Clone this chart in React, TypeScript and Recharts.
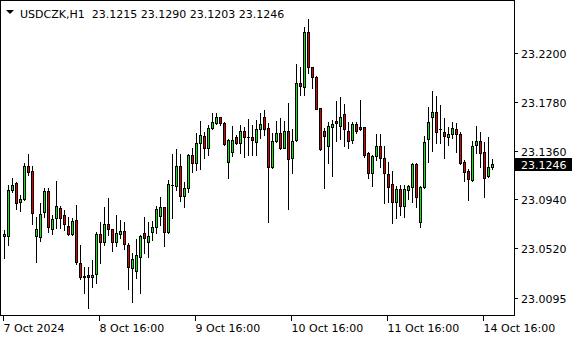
import { ComposedChart, Bar, XAxis, YAxis } from "recharts";

// USDCZK H1, 7 Oct 2024 16:00 .. 14 Oct 2024 18:00
const open = [
  23.0623, 23.0628, 23.1018, 23.1084, 23.0915, 23.0941, 23.1227, 23.1184, 23.0628, 23.0615,
  23.0829, 23.1012, 23.0686, 23.0783, 23.0864, 23.0806, 23.0712, 23.064, 23.0763, 23.0391,
  23.0282, 23.0291, 23.0276, 23.0299, 23.064, 23.0577, 23.0726, 23.0683, 23.0572, 23.0646,
  23.0669, 23.0548, 23.0348, 23.0328, 23.0443, 23.0649, 23.0577, 23.0658, 23.0701, 23.08,
  23.0872, 23.0658, 23.1064, 23.1058, 23.1227, 23.0972, 23.1036, 23.1322, 23.125, 23.1427,
  23.1485, 23.1379, 23.1551, 23.1594, 23.1645, 23.1594, 23.1264, 23.135, 23.1474, 23.1422,
  23.153, 23.1474, 23.1476, 23.1436, 23.1545, 23.1645, 23.1551, 23.1216, 23.1444, 23.1508,
  23.1384, 23.1528, 23.1293, 23.145, 23.1937, 23.1903, 23.2376, 23.2075, 23.1989, 23.1723,
  23.1528, 23.1399, 23.1565, 23.1614, 23.1571, 23.1671, 23.1528, 23.145, 23.1585, 23.1565,
  23.156, 23.1336, 23.117, 23.1316, 23.1399, 23.1293, 23.1156, 23.107, 23.092, 23.103,
  23.0886, 23.1021, 23.1049, 23.1244, 23.0743, 23.1044, 23.1456, 23.1651, 23.1694, 23.1542,
  23.1517, 23.1474, 23.1499, 23.1542, 23.1502, 23.1259, 23.1187, 23.1107, 23.1407, 23.1444,
  23.1345, 23.1141, 23.1215,
];
const high = [
  23.0677, 23.1064, 23.1121, 23.1092, 23.0978, 23.1255, 23.133, 23.1227, 23.0792, 23.0907,
  23.1038, 23.1036, 23.0806, 23.1098, 23.0884, 23.0849, 23.0792, 23.0778, 23.0892, 23.0548,
  23.0362, 23.0362, 23.042, 23.0663, 23.0749, 23.0877, 23.0955, 23.069, 23.0806, 23.0763,
  23.0743, 23.0563, 23.0477, 23.06, 23.0634, 23.0792, 23.0749, 23.0757, 23.0884, 23.0963,
  23.0879, 23.1107, 23.133, 23.1371, 23.1328, 23.1092, 23.133, 23.1379, 23.1508, 23.1614,
  23.1522, 23.1579, 23.168, 23.168, 23.1648, 23.1602, 23.1456, 23.1571, 23.1493, 23.1579,
  23.1565, 23.1628, 23.1579, 23.1622, 23.1685, 23.1708, 23.1594, 23.1508, 23.1616, 23.1637,
  23.1614, 23.1771, 23.1542, 23.2103, 23.2075, 23.2424, 23.2487, 23.208, 23.2, 23.1725,
  23.1551, 23.1608, 23.1622, 23.1788, 23.1817, 23.176, 23.1608, 23.1608, 23.1608, 23.1794,
  23.1565, 23.135, 23.1322, 23.1499, 23.1499, 23.1399, 23.1264, 23.1187, 23.1055, 23.1064,
  23.1064, 23.1064, 23.1255, 23.1255, 23.1055, 23.1485, 23.1731, 23.1871, 23.1828, 23.1751,
  23.1637, 23.1565, 23.1608, 23.1599, 23.1522, 23.1279, 23.1199, 23.1442, 23.1571, 23.1522,
  23.1436, 23.1474, 23.129,
];
const low = [
  23.0437, 23.0548, 23.1006, 23.0855, 23.0843, 23.0935, 23.115, 23.0729, 23.0405, 23.0585,
  23.0792, 23.0663, 23.064, 23.0697, 23.0697, 23.0677, 23.0634, 23.0634, 23.0383, 23.0254,
  23.0134, 23.0005, 23.019, 23.0222, 23.0396, 23.0548, 23.0634, 23.05, 23.0542, 23.0606,
  23.0514, 23.0171, 23.0061, 23.0268, 23.0134, 23.0482, 23.0448, 23.0591, 23.0654, 23.072,
  23.0542, 23.0654, 23.0783, 23.1021, 23.0926, 23.0877, 23.1006, 23.1178, 23.1193, 23.1199,
  23.1293, 23.1322, 23.1542, 23.1585, 23.1579, 23.1407, 23.1121, 23.1313, 23.1413, 23.1341,
  23.1302, 23.1322, 23.1322, 23.1322, 23.1465, 23.1493, 23.0749, 23.1207, 23.1436, 23.1371,
  23.1379, 23.0858, 23.117, 23.1446, 23.1837, 23.1837, 23.2023, 23.19, 23.1714, 23.1367,
  23.1036, 23.1255, 23.1144, 23.1442, 23.1456, 23.1399, 23.1379, 23.1427, 23.1513, 23.1536,
  23.1307, 23.1127, 23.1058, 23.1279, 23.1221, 23.0912, 23.092, 23.074, 23.0778, 23.0806,
  23.0789, 23.0941, 23.092, 23.0877, 23.0706, 23.1041, 23.1264, 23.1359, 23.1422, 23.1422,
  23.1298, 23.1407, 23.1465, 23.135, 23.1244, 23.1101, 23.0935, 23.1101, 23.1336, 23.1216,
  23.0963, 23.113, 23.1203,
];
const close = [
  23.064, 23.1021, 23.1061, 23.0907, 23.0944, 23.1227, 23.1178, 23.0821, 23.0686, 23.0812,
  23.1012, 23.0701, 23.0772, 23.0884, 23.0783, 23.0729, 23.064, 23.0755, 23.0405, 23.0271,
  23.0271, 23.0271, 23.0291, 23.064, 23.0577, 23.0726, 23.0683, 23.0572, 23.0649, 23.0669,
  23.0554, 23.0357, 23.0426, 23.0463, 23.0628, 23.0606, 23.0628, 23.0703, 23.0858, 23.0877,
  23.0658, 23.107, 23.1064, 23.1227, 23.0972, 23.1041, 23.1322, 23.125, 23.1422, 23.1493,
  23.1384, 23.1551, 23.1602, 23.1645, 23.1594, 23.1413, 23.145, 23.145, 23.1422, 23.153,
  23.1474, 23.1474, 23.1453, 23.1545, 23.1585, 23.1545, 23.1221, 23.1444, 23.1508, 23.1384,
  23.1528, 23.1285, 23.1442, 23.1937, 23.1917, 23.2376, 23.2075, 23.1989, 23.1717, 23.1371,
  23.1487, 23.1571, 23.1588, 23.1594, 23.1651, 23.1542, 23.1444, 23.1585, 23.153, 23.1545,
  23.1322, 23.1164, 23.1313, 23.1399, 23.1293, 23.1164, 23.1049, 23.092, 23.103, 23.0886,
  23.103, 23.1055, 23.1244, 23.0958, 23.1044, 23.1431, 23.1602, 23.1694, 23.1522, 23.1542,
  23.1487, 23.1499, 23.1551, 23.1499, 23.125, 23.1178, 23.1113, 23.1399, 23.1442, 23.1341,
  23.1121, 23.1216, 23.1246,
];

const yTicks = [23.22, 23.178, 23.136, 23.094, 23.052, 23.0095];
const xTickIdx = [0, 24, 48, 72, 96, 120];
const xTickLabels = ["7 Oct 2024", "8 Oct 16:00", "9 Oct 16:00", "10 Oct 16:00", "11 Oct 16:00", "14 Oct 16:00"];

const symbol = "USDCZK,H1";
const last = open.length - 1;
const lastClose = close[last];

const FONT = "'DejaVu Sans', sans-serif";
const BULL = "#00f000";
const BEAR = "#e00000";

const rows = open.map((o, i) => ({ i, open: o, high: high[i], low: low[i], close: close[i] }));

function Candle(props: any) {
  const { x, y, width, height } = props;
  const d = props.payload ?? props;
  if (d == null || x == null) return null;
  const top = Math.min(y, y + height);
  const h = Math.abs(height);
  const span = d.high - d.low || 1e-9;
  const toY = (p: number) => top + ((d.high - p) / span) * h;
  const cx = Math.floor(x + width / 2);
  const yH = Math.round(toY(d.high));
  const yL = Math.round(toY(d.low));
  const yO = Math.round(toY(d.open));
  const yC = Math.round(toY(d.close));
  const bt = Math.min(yO, yC);
  const bb = Math.max(yO, yC);
  return (
    <g shapeRendering="crispEdges">
      <rect x={cx} y={yH} width={1} height={yL - yH + 1} fill="#000" />
      {bb - bt < 1 ? (
        <rect x={cx - 1} y={bt} width={3} height={1} fill="#000" />
      ) : (
        <>
          <rect x={cx - 1} y={bt} width={3} height={bb - bt + 1} fill="#000" />
          {bb - bt > 1 && (
            <rect
              x={cx}
              y={bt + 1}
              width={1}
              height={bb - bt - 1}
              fill={d.close >= d.open ? BULL : BEAR}
            />
          )}
        </>
      )}
    </g>
  );
}

function YTick(props: any) {
  const { x, y, payload } = props;
  const v = payload.value;
  const ty = Math.round(y);
  if (v === lastClose) {
    return (
      <g shapeRendering="crispEdges">
        <rect x={x - 6} y={ty - 6} width={57} height={13} fill="#000" />
        <text x={x} y={ty + 4.5} fill="#fff" fontFamily={FONT} fontSize={11}>
          {v.toFixed(4)}
        </text>
      </g>
    );
  }
  return (
    <g>
      <rect x={x - 6} y={ty} width={3} height={1} fill="#000" shapeRendering="crispEdges" />
      <text x={x} y={ty + 4.5} fill="#000" fontFamily={FONT} fontSize={11}>
        {v.toFixed(4)}
      </text>
    </g>
  );
}

function XTick(props: any) {
  const { x, y, payload } = props;
  const col = Math.floor(x);
  const label = xTickLabels[xTickIdx.indexOf(payload.value)];
  return (
    <g>
      <rect x={col} y={y + 1} width={1} height={5} fill="#000" shapeRendering="crispEdges" />
      <text x={col + 0.5} y={y + 17} fill="#000" fontFamily={FONT} fontSize={11}>
        {label}
      </text>
    </g>
  );
}

export default function App() {
  const ohlc = [open[last], high[last], low[last], close[last]].map((v) => v.toFixed(4)).join(" ");
  return (
    <div style={{ position: "absolute", left: 0, top: 0, width: 580, height: 340, background: "#fff" }}>
      <ComposedChart
        width={580}
        height={340}
        data={rows}
        margin={{ top: 0, right: 0, bottom: 0, left: 0 }}
      >
        <XAxis
          dataKey="i"
          type="number"
          domain={[-0.875, 127.625]}
          allowDataOverflow
          ticks={xTickIdx}
          interval={0}
          height={25}
          tickLine={false}
          axisLine={false}
          tickSize={0}
          tickMargin={0}
          tick={XTick}
        />
        <YAxis
          orientation="right"
          type="number"
          domain={[22.9947, 23.2653]}
          allowDataOverflow
          ticks={[...yTicks, lastClose]}
          interval={0}
          width={66}
          tickLine={false}
          axisLine={false}
          tickSize={0}
          tickMargin={7}
          tick={YTick}
        />
        <Bar
          dataKey={(d: any) => [d.low, d.high]}
          barSize={3}
          shape={(p: any) => <Candle {...p} />}
          isAnimationActive={false}
        />
      </ComposedChart>
      <svg
        width={580}
        height={340}
        style={{ position: "absolute", left: 0, top: 0, pointerEvents: "none" }}
      >
        <rect x={0.5} y={0.5} width={514} height={315} fill="none" stroke="#000" shapeRendering="crispEdges" />
        <polygon points="6,10 14,10 10,14" fill="#000" />
        <text x={20} y={18} fontFamily={FONT} fontSize={11} fill="#000" style={{ whiteSpace: "pre" }}>
          {`${symbol}  ${ohlc}`}
        </text>
      </svg>
    </div>
  );
}
